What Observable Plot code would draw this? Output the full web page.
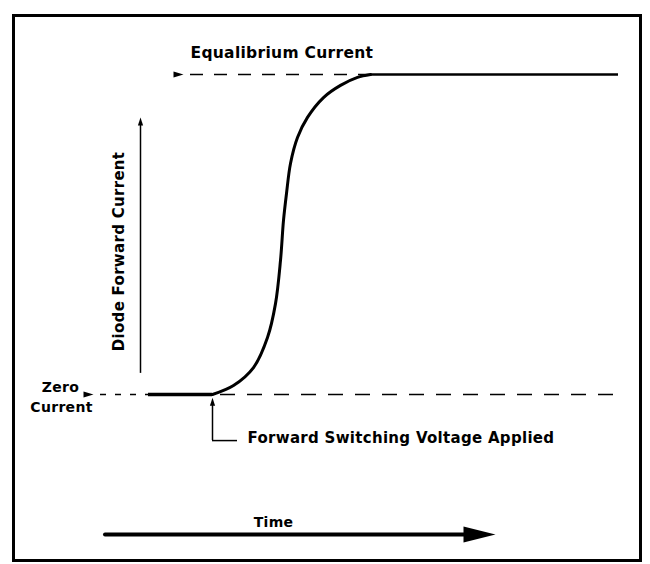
<!DOCTYPE html>
<html><head><meta charset="utf-8">
<script src="https://cdn.jsdelivr.net/npm/d3@7"></script>
<script src="https://cdn.jsdelivr.net/npm/@observablehq/plot@0.6"></script>
<style>body{margin:0;background:#fff}</style>
</head><body><div id="chart"></div>
<script>
// Diode forward-current response (time in arbitrary units, current normalised 0..1)
const curveTime    = [22.4, 26.6, 30.6, 33.4, 35.0, 36.0, 36.6, 37.2, 38.0, 39.4, 41.4, 44.6, 48.0, 51.4, 54.0];
const curveCurrent = [0, 0.028, 0.084, 0.178, 0.284, 0.419, 0.544, 0.628, 0.722, 0.803, 0.866, 0.928, 0.966, 0.991, 1.0];
const zeroCurrent = 0;
const equilibriumCurrent = 1;
const startTime = 9.6;     // start of solid zero-current trace
const switchTime = 22.4;   // forward switching voltage applied
const endTime = 103.6;     // end of traces
const labelTexts = ["Equalibrium Current", "Zero", "Current", "Diode Forward Current", "Forward Switching Voltage Applied", "Time"];

const curve = curveTime.map((t, i) => ({t, i: curveCurrent[i]}));

function head(len, hw) {
  return {draw(ctx) { ctx.moveTo(0, 0); ctx.lineTo(-len, -hw); ctx.lineTo(-len, hw); ctx.closePath(); }};
}
const sideHead = head(10, 3);
const upHead = head(8, 2.6);
const bigHead = head(32, 8);

const font = {fontFamily: "DejaVu Sans", fontWeight: "bold", fill: "black"};

const chart = Plot.plot({
  width: 650, height: 564,
  marginTop: 15, marginLeft: 13, marginRight: 10, marginBottom: 4,
  x: {domain: [0, 100], range: [100, 600], axis: null},
  y: {domain: [0, 1], range: [394, 74], axis: null},
  style: {letterSpacing: "0.3px", background: "white"},
  marks: [
    Plot.frame({stroke: "black", strokeWidth: 3}),
    // dashed reference levels
    Plot.ruleY([equilibriumCurrent], {x1: 18, x2: 54, stroke: "black", strokeWidth: 1.5, strokeDasharray: "13,11"}),
    Plot.ruleY([zeroCurrent], {x1: 0, x2: startTime, stroke: "black", strokeWidth: 1.5, strokeDasharray: "6,9"}),
    Plot.ruleY([zeroCurrent], {x1: 24, x2: endTime, stroke: "black", strokeWidth: 1.5, strokeDasharray: "15,12"}),
    Plot.dot([equilibriumCurrent], {x: 16.6, y: d => d, symbol: sideHead, fill: "black", stroke: "none"}),
    Plot.dot([zeroCurrent], {x: -1.4, y: d => d, symbol: sideHead, fill: "black", stroke: "none"}),
    // solid traces
    Plot.ruleY([zeroCurrent], {x1: startTime, x2: switchTime, stroke: "black", strokeWidth: 3.5}),
    Plot.line(curve, {x: "t", y: "i", curve: "catmull-rom", stroke: "black", strokeWidth: 3}),
    Plot.ruleY([equilibriumCurrent], {x1: 54, x2: endTime, stroke: "black", strokeWidth: 2.5}),
    // vertical axis arrow
    Plot.ruleX([8], {y1: 0.066, y2: 0.85, stroke: "black", strokeWidth: 1.5}),
    Plot.dot([8], {x: d => d, y: 0.866, symbol: upHead, rotate: -90, fill: "black", stroke: "none"}),
    Plot.text([labelTexts[3]], {x: 3.8, y: 0.447, text: d => d, rotate: -90, fontSize: 15, ...font}),
    // switching pointer
    Plot.ruleX([switchTime], {y1: -0.144, y2: -0.03, stroke: "black", strokeWidth: 1.5}),
    Plot.ruleY([-0.144], {x1: switchTime, x2: 27.4, stroke: "black", strokeWidth: 1.5}),
    Plot.dot([switchTime], {x: d => d, y: -0.01, symbol: upHead, rotate: -90, fill: "black", stroke: "none"}),
    Plot.text([labelTexts[4]], {x: 29.4, y: -0.136, text: d => d, textAnchor: "start", fontSize: 15, ...font}),
    // labels
    Plot.text([labelTexts[0]], {x: 18, y: 1.067, text: d => d, textAnchor: "start", fontSize: 15.5, ...font}),
    Plot.text([labelTexts[1]], {x: -8, y: 0.022, text: d => d, fontSize: 14, ...font}),
    Plot.text([labelTexts[2]], {x: -7.8, y: -0.042, text: d => d, fontSize: 14, ...font}),
    // time arrow
    Plot.ruleY([-0.4375], {x1: 1, x2: 74, stroke: "black", strokeWidth: 4, strokeLinecap: "round"}),
    Plot.dot([-0.4375], {x: 79, y: d => d, symbol: bigHead, fill: "black", stroke: "none"}),
    Plot.text([labelTexts[5]], {x: 34.6, y: -0.4, text: d => d, fontSize: 14, ...font})
  ]
});
document.getElementById("chart").appendChild(chart);
</script>
</body></html>
